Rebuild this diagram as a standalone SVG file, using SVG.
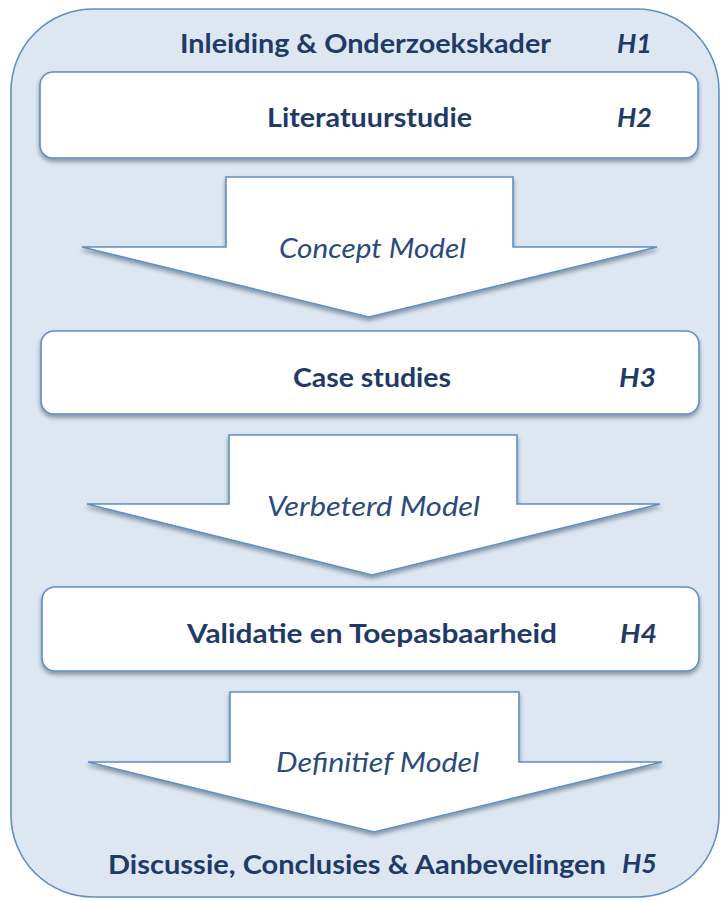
<svg xmlns="http://www.w3.org/2000/svg" width="722" height="901" viewBox="0 0 722 901">
  <defs>
    <filter id="shadow" x="-10%" y="-10%" width="120%" height="130%">
      <feDropShadow dx="0" dy="3" stdDeviation="2.2" flood-color="#1b2a40" flood-opacity="0.45"/>
    </filter>
    <style>
      .frame { fill: #dde7f2; stroke: #5f8fc4; stroke-width: 1.6; }
      .box { fill: #ffffff; stroke: #5f8fc4; stroke-width: 1.6; filter: url(#shadow); }
      .arrow { fill: #ffffff; stroke: #5f8fc4; stroke-width: 1.6; stroke-linejoin: miter; filter: url(#shadow); }
      .title { font-family: Lato, "Open Sans", "Liberation Sans", sans-serif; font-weight: bold; font-size: 27px; fill: #1f3a68; }
      .chap { font-family: Lato, "Open Sans", "Liberation Sans", sans-serif; font-weight: bold; font-style: italic; font-size: 27px; fill: #1f3a68; }
      .flow { font-family: Lato, "Open Sans", "Liberation Sans", sans-serif; font-style: italic; font-size: 27px; fill: #2b4a7d; }
    </style>
  </defs>

  <!-- outer frame: introduction and closing chapters -->
  <g id="container">
    <rect class="frame" x="11" y="9" width="708" height="888" rx="82" ry="82"/>
    <text class="title" x="180" y="53" textLength="371" lengthAdjust="spacingAndGlyphs">Inleiding &amp; Onderzoekskader</text>
    <text class="chap" x="617" y="53" textLength="35" lengthAdjust="spacingAndGlyphs">H1</text>
    <text class="title" x="108" y="874" textLength="498" lengthAdjust="spacingAndGlyphs">Discussie, Conclusies &amp; Aanbevelingen</text>
    <text class="chap" x="622" y="873" textLength="35" lengthAdjust="spacingAndGlyphs">H5</text>
  </g>

  <g id="literatuurstudie">
    <rect class="box" x="40" y="72" width="658" height="86" rx="13" ry="13"/>
    <text class="title" x="267" y="127" textLength="205" lengthAdjust="spacingAndGlyphs">Literatuurstudie</text>
    <text class="chap" x="617" y="127" textLength="35" lengthAdjust="spacingAndGlyphs">H2</text>
  </g>

  <g id="case-studies">
    <rect class="box" x="41" y="331" width="658" height="83" rx="13" ry="13"/>
    <text class="title" x="293" y="387" textLength="158" lengthAdjust="spacingAndGlyphs">Case studies</text>
    <text class="chap" x="619" y="387" textLength="37" lengthAdjust="spacingAndGlyphs">H3</text>
  </g>

  <g id="validatie">
    <rect class="box" x="42" y="587" width="657" height="84" rx="13" ry="13"/>
    <text class="title" x="187" y="643" textLength="370" lengthAdjust="spacingAndGlyphs">Validatie en Toepasbaarheid</text>
    <text class="chap" x="620" y="643" textLength="37" lengthAdjust="spacingAndGlyphs">H4</text>
  </g>

  <!-- block arrows between the stages -->
  <g id="connectors">
    <polygon class="arrow" points="226,177 513,177 513,247 657,247 369,317 82,247 226,247"/>
    <text class="flow" x="279" y="258" textLength="187" lengthAdjust="spacingAndGlyphs">Concept Model</text>

    <polygon class="arrow" points="229,435 517,435 517,504 660,504 372,575 87,504 229,504"/>
    <text class="flow" x="267" y="516" textLength="213" lengthAdjust="spacingAndGlyphs">Verbeterd Model</text>

    <polygon class="arrow" points="230,692 519,692 519,762 662,762 374,832 88,762 230,762"/>
    <text class="flow" x="276" y="772" textLength="203" lengthAdjust="spacingAndGlyphs">Definitief Model</text>
  </g>
</svg>
